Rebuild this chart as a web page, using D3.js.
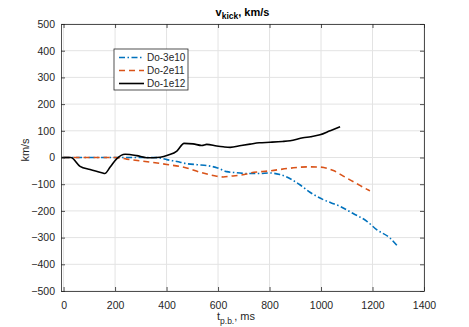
<!DOCTYPE html>
<meta charset="utf-8">
<style>
body { margin: 0; background: #fff; }
svg { font-family: "Liberation Sans", Arial, Helvetica, sans-serif; }
.grid line { stroke: #e3e3e3; stroke-width: 1; }
.tick-label { fill: #262626; font-size: 10.5px; }
</style>
<svg width="469" height="327"></svg>
<script src="https://d3js.org/d3.v7.min.js"></script>
<script>

// values (t in ms, v in km/s)
var t3e10 = [0, 100, 200, 300, 350, 380, 401, 440, 478, 520, 556, 595, 634, 660, 711, 760, 802, 840, 867, 890, 918, 957, 1009, 1040, 1074, 1125, 1177, 1216, 1268, 1300];
var v3e10 = [0, 0, 0, 0, 0, -3, -8, -15, -23, -27, -30, -38, -53, -56, -60, -60, -58, -64, -73, -85, -102, -130, -158, -170, -183, -210, -238, -270, -302, -335];

var t2e11 = [0, 100, 200, 245, 309, 401, 478, 530, 570, 595, 620, 647, 711, 724, 802, 880, 944, 996, 1048, 1093, 1139, 1184, 1190];
var v2e11 = [0, 0, 0, -6, -14, -26, -39, -55, -65, -70, -73, -70, -62, -58, -50, -40, -35, -36, -49, -73, -98, -122, -125];

var t1e12 = [-8, 28, 64, 103, 152, 160, 181, 206, 239, 284, 323, 375, 407, 440, 468, 503, 537, 556, 595, 620, 647, 690, 724, 760, 802, 850, 880, 930, 960, 996, 1035, 1074];
var v1e12 = [0, 0, -33, -45, -58, -60, -36, -5, 12, 7, -1, 1, 9, 24, 53, 51, 45, 49, 43, 40, 38, 45, 50, 55, 57, 60, 63, 74, 78, 85, 100, 115];

var seriesNames = ["Do-3e10", "Do-2e11", "Do-1e12"];
var xTicks = [0, 200, 400, 600, 800, 1000, 1200, 1400];
var yTicks = [-500, -400, -300, -200, -100, 0, 100, 200, 300, 400, 500];

var series = [
  {name: seriesNames[0], t: t3e10, v: v3e10, color: "#0072BD", dash: "6,2.5,1.5,2.5"},
  {name: seriesNames[1], t: t2e11, v: v2e11, color: "#D95319", dash: "6,4"},
  {name: seriesNames[2], t: t1e12, v: v1e12, color: "#000000", dash: null}
];

var svg = d3.select("svg"),
    margin = {top: 24, right: 45, bottom: 36, left: 61},
    width = +svg.attr("width") - margin.left - margin.right,
    height = +svg.attr("height") - margin.top - margin.bottom;

var x = d3.scaleLinear().domain([-10, 1400]).range([0, width]),
    y = d3.scaleLinear().domain([-500, 500]).range([height, 0]);

var g = svg.append("g")
    .attr("transform", "translate(" + margin.left + "," + margin.top + ")");

// grid
var grid = g.append("g").attr("class", "grid");
grid.selectAll(".gx").data(xTicks).enter().append("line")
    .attr("x1", function(d) { return x(d); }).attr("x2", function(d) { return x(d); })
    .attr("y1", 0).attr("y2", height);
grid.selectAll(".gy").data(yTicks).enter().append("line")
    .attr("y1", function(d) { return y(d); }).attr("y2", function(d) { return y(d); })
    .attr("x1", 0).attr("x2", width);

// lines
var line = d3.line()
    .curve(d3.curveMonotoneX)
    .x(function(d) { return x(d[0]); })
    .y(function(d) { return y(d[1]); });

series.forEach(function(s) {
  g.append("path")
      .datum(d3.zip(s.t, s.v))
      .attr("fill", "none")
      .attr("stroke", s.color)
      .attr("stroke-width", 1.6)
      .attr("stroke-dasharray", s.dash)
      .attr("stroke-linejoin", "round")
      .attr("d", line);
});

// axes, matlab style: box with inward ticks on all sides
function styleAxis(sel) {
  sel.select(".domain").attr("stroke", "#262626").attr("stroke-width", 0.8);
  sel.selectAll(".tick line").attr("stroke", "#262626").attr("stroke-width", 0.8);
  sel.selectAll(".tick text").attr("class", "tick-label").attr("fill", "#262626");
}

var fmt = d3.format("d");

g.append("g")
    .attr("transform", "translate(0," + height + ")")
    .call(d3.axisBottom(x).tickValues(xTicks).tickFormat(fmt).tickSizeInner(-4).tickSizeOuter(0).tickPadding(11))
    .call(styleAxis);
g.append("g")
    .call(d3.axisTop(x).tickValues(xTicks).tickSizeInner(-4).tickSizeOuter(0).tickFormat(""))
    .call(styleAxis);
g.append("g")
    .call(d3.axisLeft(y).tickValues(yTicks).tickFormat(fmt).tickSizeInner(-4).tickSizeOuter(0).tickPadding(6))
    .call(styleAxis);
g.append("g")
    .attr("transform", "translate(" + width + ",0)")
    .call(d3.axisRight(y).tickValues(yTicks).tickSizeInner(-4).tickSizeOuter(0).tickFormat(""))
    .call(styleAxis);

// title
var title = svg.append("text")
    .attr("x", margin.left + width / 2)
    .attr("y", 16)
    .attr("text-anchor", "middle")
    .attr("font-weight", "bold")
    .attr("font-size", 11)
    .attr("fill", "#000");
title.append("tspan").text("v");
title.append("tspan").attr("font-size", 8.5).attr("dy", 3).text("kick");
title.append("tspan").attr("dy", -3).text(", km/s");

// x label
var xl = svg.append("text")
    .attr("x", 236)
    .attr("y", 320)
    .attr("text-anchor", "middle")
    .attr("font-size", 11)
    .attr("fill", "#262626");
xl.append("tspan").text("t");
xl.append("tspan").attr("font-size", 8.5).attr("dy", 3.5).text("p.b.");
xl.append("tspan").attr("dy", -3.5).text(", ms");

// y label
svg.append("text")
    .attr("transform", "translate(29,150) rotate(-90)")
    .attr("text-anchor", "middle")
    .attr("font-size", 11)
    .attr("fill", "#262626")
    .text("km/s");

// legend
var legend = svg.append("g").attr("transform", "translate(114,49)");
legend.append("rect")
    .attr("width", 74).attr("height", 41)
    .attr("fill", "#fff")
    .attr("stroke", "#262626").attr("stroke-width", 0.8);

var item = legend.selectAll(".item").data(series).enter().append("g")
    .attr("transform", function(d, i) { return "translate(0," + (8.5 + i * 13) + ")"; });
item.append("line")
    .attr("x1", 5).attr("x2", 30)
    .attr("stroke", function(d) { return d.color; })
    .attr("stroke-width", 1.6)
    .attr("stroke-dasharray", function(d) { return d.dash; });
item.append("text")
    .attr("x", 33)
    .attr("dy", "0.35em")
    .attr("font-size", 10)
    .attr("fill", "#262626")
    .text(function(d) { return d.name; });

</script>
